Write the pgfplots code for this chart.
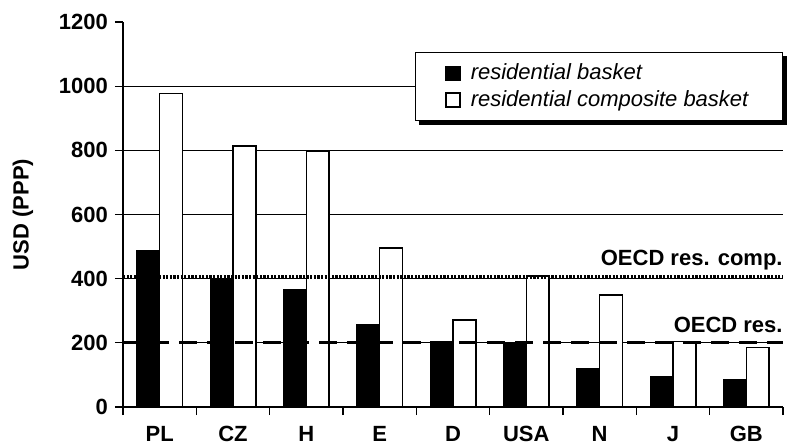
\documentclass[border=0pt]{standalone}
\usepackage{pgfplots}
\pgfplotsset{compat=1.18}
\usepackage{fontspec}
\setmainfont{Liberation Sans}

\begin{document}
\begin{tikzpicture}
\useasboundingbox (-61.5pt,-19.5pt) rectangle (332pt,203.5pt);
\begin{axis}[
  at={(0pt,0pt)}, anchor=south west,
  width=330pt, height=192.5pt, scale only axis,
  xmin=-0.5, xmax=8.5, ymin=0, ymax=1200,
  axis x line*=bottom, axis y line*=left,
  axis line style={line width=0.6pt},
  ybar=0pt, bar width=0.31,
  ytick={0,200,...,1200},
  xtick={-0.5,0.5,...,8.5}, xticklabels={},
  extra x ticks={0,1,...,8},
  extra x tick labels={PL,CZ,H,E,D,USA,N,J,GB},
  extra x tick style={major tick length=0pt, xticklabel style={yshift=-6pt}},
  extra y ticks={200,400,...,1000},
  extra y tick labels={,,,,},
  extra y tick style={grid=major, major tick length=0pt},
  grid style={black, line width=0.5pt},
  tick align=outside, major tick length=4pt,
  tick style={black, line width=0.6pt},
  ticklabel style={font=\fontsize{11}{13}\selectfont\bfseries},
  /pgf/number format/assume math mode=true,
  /pgf/number format/1000 sep={},
  ylabel={USD (PPP)},
  ylabel style={font=\fontsize{11}{13}\selectfont\bfseries, yshift=2pt},
  legend cell align=left,
  legend style={at={(rel axis cs:1,0.922)}, anchor=north east, name=leg,
    draw=black, line width=0.6pt, fill=white,
    font=\itshape\fontsize{11}{13}\selectfont,
    inner xsep=15pt, inner ysep=3.5pt},
  legend image code/.code={\draw[#1] (0pt,-3.5pt) rectangle (7pt,3.5pt); \path (10pt,0pt);},
]
\addplot[fill=black, draw=black, line width=0.6pt] coordinates {
  (0,489) (1,396) (2,365) (3,256) (4,204) (5,198) (6,121) (7,95) (8,86)};
\addlegendentry{residential basket}
\addplot[fill=white, draw=black, line width=0.8pt] coordinates {
  (0,977) (1,814) (2,798) (3,495) (4,271) (5,408) (6,349) (7,204) (8,186)};
\addlegendentry{residential composite basket}

% OECD averages
\addplot[sharp plot, forget plot, black, line width=1.6pt, dash pattern=on 1.1pt off 0.7pt]
  coordinates {(-0.5,405) (8.5,405)};
\addplot[sharp plot, forget plot, black, line width=1.5pt, dash pattern=on 9pt off 5pt]
  coordinates {(-0.5,200) (8.5,200)};

\node[anchor=east, inner sep=0pt, font=\bfseries\fontsize{11}{13}\selectfont] at (axis cs:8.5,458) {OECD res. comp.};
\node[anchor=east, inner sep=0pt, font=\bfseries\fontsize{11}{13}\selectfont] at (axis cs:8.5,255) {OECD res.};
\end{axis}
% legend shadow
\draw[line width=2pt] ([xshift=2pt,yshift=-1pt]leg.south west) -- ([xshift=1pt,yshift=-1pt]leg.south east)
  -- ([xshift=1pt,yshift=-2pt]leg.north east);
\end{tikzpicture}
\end{document}
